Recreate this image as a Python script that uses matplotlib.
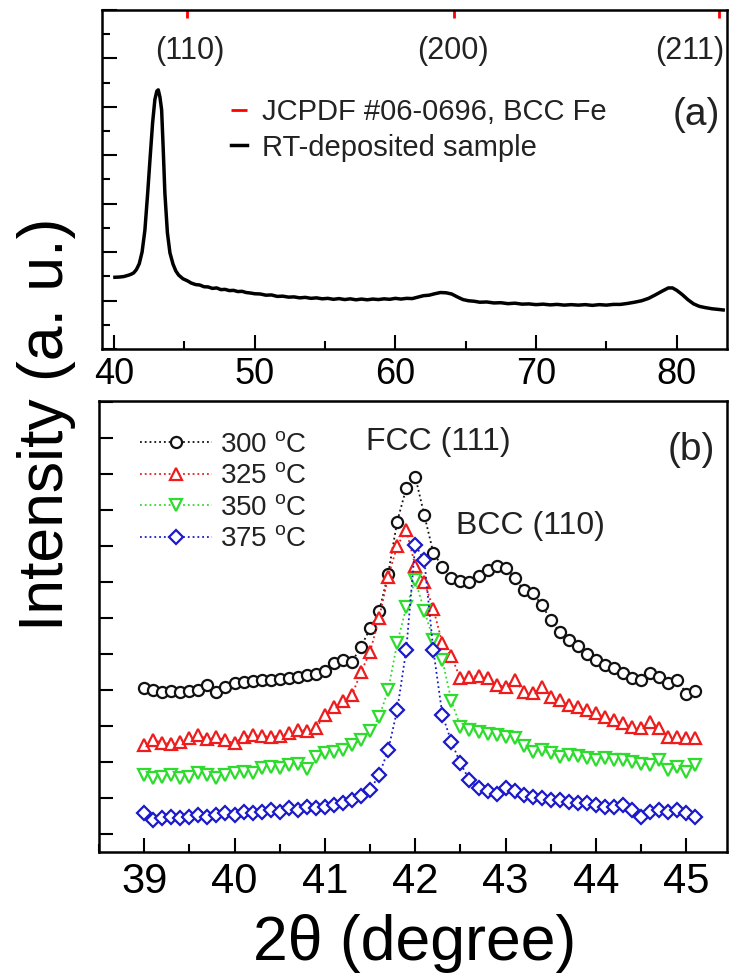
import matplotlib
matplotlib.use('Agg')
import matplotlib.pyplot as plt
from matplotlib.ticker import MultipleLocator
import numpy as np

plt.rcParams['font.family'] = ['Liberation Sans', 'DejaVu Sans']
plt.rcParams['mathtext.default'] = 'regular'

# ---- panel (a): RT-deposited sample ----
rt_2theta = [40.07, 40.4, 40.7, 41.0, 41.2, 41.4, 41.6, 41.8, 42.0, 42.2, 42.4, 42.56,
             42.75, 42.91, 43.05, 43.15, 43.27, 43.39, 43.5, 43.62, 43.8, 43.98, 44.2,
             44.4, 44.6, 44.9, 45.2, 45.5, 45.8, 46.1, 46.4, 46.7, 47.0, 47.3, 47.6, 47.9,
             48.2, 48.5, 48.8, 49.1, 49.4, 49.7, 50.0, 50.4, 50.8, 51.2, 51.6, 52.0, 52.4,
             52.8, 53.2, 53.6, 54.0, 54.4, 54.8, 55.2, 55.6, 56.0, 56.4, 56.8, 57.2, 57.6,
             58.0, 58.4, 58.8, 59.2, 59.6, 60.0, 60.4, 60.8, 61.2, 61.6, 62.0, 62.4, 62.8,
             63.2, 63.6, 64.0, 64.4, 64.8, 65.2, 65.6, 66.0, 66.5, 67.0, 67.5, 68.0, 68.5,
             69.0, 69.5, 70.0, 70.5, 71.0, 71.5, 72.0, 72.5, 73.0, 73.5, 74.0, 74.5, 75.0,
             75.5, 76.0, 76.5, 77.0, 77.5, 78.0, 78.5, 79.0, 79.4, 79.7, 80.0, 80.4, 80.8,
             81.2, 81.6, 82.0, 82.5, 83.0, 83.3]
rt_int = [2.96, 2.97, 2.99, 3.04, 3.08, 3.14, 3.28, 3.52, 4.00, 4.90, 6.45, 7.80,
          9.35, 10.30, 10.65, 10.70, 10.40, 9.87, 8.30, 6.44, 4.80, 3.97, 3.50,
          3.22, 3.05, 2.90, 2.82, 2.72, 2.66, 2.64, 2.57, 2.56, 2.50, 2.52, 2.45, 2.46,
          2.41, 2.42, 2.37, 2.38, 2.33, 2.31, 2.28, 2.27, 2.22, 2.23, 2.17, 2.18, 2.14,
          2.15, 2.11, 2.13, 2.09, 2.11, 2.07, 2.09, 2.05, 2.08, 2.04, 2.07, 2.03, 2.06,
          2.03, 2.06, 2.04, 2.07, 2.05, 2.09, 2.06, 2.09, 2.08, 2.14, 2.20, 2.22, 2.28,
          2.33, 2.32, 2.27, 2.15, 2.04, 1.99, 1.97, 1.93, 1.94, 1.90, 1.91, 1.87, 1.89,
          1.85, 1.86, 1.83, 1.85, 1.82, 1.84, 1.81, 1.83, 1.81, 1.83, 1.80, 1.83, 1.81,
          1.84, 1.84, 1.88, 1.93, 1.99, 2.09, 2.24, 2.40, 2.52, 2.52, 2.42, 2.24, 2.03,
          1.86, 1.76, 1.71, 1.66, 1.63, 1.61]

jcpdf_pos = [45.2, 64.2, 83.0]
jcpdf_hkl = ['(110)', '(200)', '(211)']

# ---- panel (b): annealed samples, 39.0 ... 45.1 deg in 0.1 steps ----
scan_2theta = np.round(np.arange(39.0, 45.15, 0.1), 1)
temps = ['300', '325', '350', '375']

i_300 = [4.55, 4.50, 4.45, 4.48, 4.45, 4.48, 4.50, 4.64, 4.45, 4.59,
         4.68, 4.72, 4.75, 4.77, 4.78, 4.80, 4.82, 4.87, 4.92, 4.95,
         5.02, 5.24, 5.34, 5.29, 5.70, 6.21, 6.68, 7.72, 9.18, 10.10,
         10.43, 9.36, 8.31, 7.93, 7.60, 7.54, 7.51, 7.67, 7.83, 7.95,
         7.88, 7.60, 7.28, 7.20, 6.86, 6.45, 6.10, 5.90, 5.72, 5.50,
         5.33, 5.20, 5.10, 4.96, 4.82, 4.78, 4.96, 4.85, 4.68, 4.78,
         4.40, 4.48]
i_325 = [2.97, 3.11, 3.04, 3.00, 3.06, 3.16, 3.25, 3.13, 3.20, 3.10,
         3.02, 3.20, 3.25, 3.22, 3.20, 3.22, 3.30, 3.39, 3.37, 3.44,
         3.80, 4.02, 4.18, 4.36, 5.00, 5.56, 6.50, 7.65, 8.50, 8.95,
         7.95, 7.50, 6.75, 5.80, 5.43, 4.82, 4.87, 4.89, 4.82, 4.64,
         4.59, 4.78, 4.45, 4.41, 4.59, 4.30, 4.22, 4.08, 4.04, 3.94,
         3.85, 3.76, 3.67, 3.57, 3.48, 3.45, 3.62, 3.44, 3.20, 3.20,
         3.16, 3.16]
i_350 = [2.14, 2.05, 2.09, 2.14, 2.05, 2.09, 2.19, 2.14, 2.05, 2.14,
         2.19, 2.23, 2.19, 2.32, 2.37, 2.32, 2.42, 2.45, 2.30, 2.65,
         2.74, 2.79, 2.83, 2.97, 3.11, 3.35, 3.75, 4.50, 5.80, 6.80,
         7.55, 6.70, 5.90, 5.33, 4.20, 3.48, 3.39, 3.32, 3.28, 3.24,
         3.20, 3.16, 2.95, 2.79, 2.83, 2.74, 2.65, 2.69, 2.66, 2.60,
         2.56, 2.60, 2.56, 2.56, 2.50, 2.44, 2.42, 2.56, 2.28, 2.37,
         2.23, 2.42]
i_375 = [1.07, 0.89, 0.94, 0.98, 0.94, 0.98, 1.03, 0.98, 1.03, 1.07,
         1.03, 1.12, 1.07, 1.12, 1.17, 1.12, 1.21, 1.17, 1.26, 1.21,
         1.26, 1.30, 1.35, 1.44, 1.55, 1.72, 2.14, 2.83, 3.94, 5.61,
         8.53, 8.11, 5.61, 3.81, 3.06, 2.46, 2.00, 1.77, 1.68, 1.60,
         1.77, 1.68, 1.58, 1.54, 1.49, 1.44, 1.44, 1.40, 1.35, 1.35,
         1.31, 1.26, 1.26, 1.31, 1.17, 0.98, 1.12, 1.17, 1.12, 1.17,
         1.07, 0.98]

series = [i_300, i_325, i_350, i_375]
colors = ['#111111', '#ee1c1c', '#2ddc2d', '#1a1acc']
markers = ['o', '^', 'v', 'D']
msizes = [8, 9, 9, 7]

fig = plt.figure(figsize=(7.3, 9.75), dpi=100)
ax1 = fig.add_axes([0.1393, 0.6421, 0.8566, 0.3477])
ax2 = fig.add_axes([0.1356, 0.1262, 0.8603, 0.4626])

# ---- (a) ----
line_rt, = ax1.plot(rt_2theta, rt_int, color='black', lw=2.5, label='RT-deposited sample')
ref = ax1.vlines(jcpdf_pos, 13.67, 14.0, color='red', lw=2, clip_on=False,
                 label='JCPDF #06-0696, BCC Fe')
ax1.set_xlim(39.13, 83.57)
ax1.set_ylim(0, 14)
ax1.xaxis.set_major_locator(MultipleLocator(10))
ax1.xaxis.set_minor_locator(MultipleLocator(5))
ax1.yaxis.set_major_locator(MultipleLocator(2))
ax1.yaxis.set_minor_locator(MultipleLocator(1))
ax1.tick_params(which='both', direction='in', top=False, right=False, width=1.5)
ax1.tick_params(axis='x', which='major', length=10, labelsize=26, pad=6)
ax1.tick_params(axis='x', which='minor', length=6)
ax1.tick_params(axis='y', which='major', length=11, labelleft=False)
ax1.tick_params(axis='y', which='minor', length=6)

for xp, lab in zip([45.4, 64.1, 80.9], jcpdf_hkl):
    ax1.text(xp, 0.878, lab, transform=ax1.get_xaxis_transform(),
             ha='center', va='center', fontsize=22, color='#222222')
ax1.text(81.4, 0.69, '(a)', transform=ax1.get_xaxis_transform(),
         ha='center', va='center', fontsize=28, color='#222222')
ax1.legend(handles=[ref, line_rt], loc='center left', bbox_to_anchor=(0.207, 0.646),
           frameon=False, fontsize=21, handlelength=0.55, handletextpad=0.5,
           borderpad=0, borderaxespad=0, labelspacing=0.25, labelcolor='#222222')

# ---- (b) ----
for k, (vals, t, c, m, s) in enumerate(zip(series, temps, colors, markers, msizes)):
    ax2.plot(scan_2theta, vals, ls=':', lw=1.3, color=c, marker=m, ms=s,
             mfc='white', mec=c, mew=1.6, label=t + r' $^{o}$C', zorder=3 + k)
ax2.set_xlim(38.5, 45.45)
ax2.set_ylim(0, 12.53)
ax2.xaxis.set_major_locator(MultipleLocator(1))
ax2.xaxis.set_minor_locator(MultipleLocator(0.5))
ax2.yaxis.set_major_locator(MultipleLocator(1, offset=0.5))
ax2.tick_params(which='both', direction='in', top=False, right=False, width=1.5)
ax2.tick_params(axis='x', which='major', length=10, labelsize=30, pad=7)
ax2.tick_params(axis='x', which='minor', length=6)
ax2.tick_params(axis='y', which='major', length=10, labelleft=False)

ax2.text(42.25, 0.909, 'FCC (111)', transform=ax2.get_xaxis_transform(),
         ha='center', va='center', fontsize=23, color='#222222')
ax2.text(43.28, 0.723, 'BCC (110)', transform=ax2.get_xaxis_transform(),
         ha='center', va='center', fontsize=23, color='#222222')
ax2.text(45.06, 0.891, '(b)', transform=ax2.get_xaxis_transform(),
         ha='center', va='center', fontsize=28, color='#222222')
ax2.legend(loc='center left', bbox_to_anchor=(0.065, 0.798), frameon=False,
           fontsize=20, handlelength=2.6, handletextpad=0.3, numpoints=1,
           borderpad=0, borderaxespad=0, labelspacing=0.2, labelcolor='#222222')

for ax in (ax1, ax2):
    for sp in ax.spines.values():
        sp.set_linewidth(1.8)

fig.text(0.064, 0.565, 'Intensity (a. u.)', rotation=90, ha='center', va='center',
         fontsize=45)
fig.text(0.5685, 0.0154, '2θ (degree)', ha='center', va='baseline', fontsize=45)

fig.savefig('out.png', dpi=100)
